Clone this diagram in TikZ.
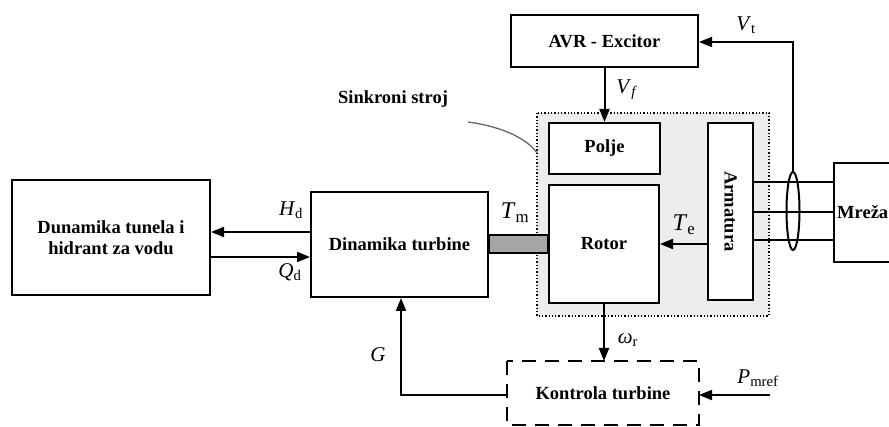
\documentclass[tikz,border=0pt]{standalone}
\usepackage{fontspec}
\setmainfont{Liberation Serif}
\usetikzlibrary{arrows.meta,shapes.geometric}
\newcommand\lab[2]{\textit{#1}\textsubscript{\normalfont #2}}
\tikzset{
  bfnt/.style={font=\bfseries\fontsize{18.5}{21}\selectfont},
  blk/.style={draw,line width=2pt,fill=white,bfnt,align=center,inner sep=0pt},
  lbl/.style={font=\fontsize{21}{23}\selectfont,inner sep=0pt},
  arr/.style={line width=2pt,-{Triangle[length=13pt,width=10pt]}},
  ln/.style={line width=2pt},
}
\begin{document}
\begin{tikzpicture}[x=1pt,y=-1pt]
\clip (0,0) rectangle (889,427);
\fill[white] (0,0) rectangle (889,427);
% synchronous machine region
\draw[fill=black!7,dotted,line width=1.3pt] (537,113) rectangle (769,316);
% boxes
\node[blk,minimum width=198pt,minimum height=115pt] (tun) at (111,237.5) {Dunamika tunela i\\hidrant za vodu};
\node[blk,minimum width=177pt,minimum height=105pt] (tur) at (399.5,244.5) {Dinamika turbine};
\node[blk,minimum width=187pt,minimum height=52pt] (avr) at (604.5,41) {AVR - Excitor};
\node[blk,minimum width=111pt,minimum height=51pt] (pol) at (604.5,148.5) {Polje};
\node[blk,minimum width=110pt,minimum height=118pt] (rot) at (604,244) {Rotor};
\node[blk,minimum width=45pt,minimum height=177pt] (arm) at (730.5,211.5) {};
\node[bfnt,rotate=-90] at (arm.center) {Armatura};
\node[blk,minimum width=120pt,minimum height=99pt,anchor=north west] (mre) at (833,162) {};
\node[bfnt,anchor=west,inner sep=0pt] at (837,212) {Mreža};
\node[blk,draw=none,minimum width=190pt,minimum height=62pt] (kon) at (603,393) {Kontrola turbine};
\draw[ln,dash pattern=on 14pt off 9pt] (kon.north west) rectangle (kon.south east);
% shaft
\draw[ln,fill=black!35] (tur.east|-0,235) rectangle (rot.west|-0,253);
\node[lbl,font=\fontsize{24}{26}\selectfont] at (515,213) {\lab{T}{m}};
% H_d and Q_d
\draw[arr] (tur.west|-0,232) -- (tun.east|-0,232);
\draw[arr] (tun.east|-0,257) -- (tur.west|-0,257);
\node[lbl] at (291,210) {\lab{H}{d}};
\node[lbl] at (290,272) {\lab{Q}{d}};
% Vf
\draw[arr] (avr.south) -- (pol.north);
\node[lbl] at (627,90) {\lab{V}{\textit{f}}};
% Te
\draw[arr] (arm.west|-0,244) -- (rot.east|-0,244);
\node[lbl,font=\fontsize{24}{26}\selectfont] at (684,225) {\lab{T}{e}};
% lines to grid
\draw[ln] (arm.east|-0,182) -- (mre.west|-0,182);
\draw[ln] (arm.east|-0,212) -- (mre.west|-0,212);
\draw[ln] (arm.east|-0,240) -- (mre.west|-0,240);
\node[ellipse,draw,line width=2pt,minimum width=13pt,minimum height=78pt,inner sep=0pt] (ell) at (793,211) {};
% Vt
\coordinate (vtc) at (793,42);
\draw[arr] (ell.north) -- (vtc) -- (avr.east|-vtc);
\node[lbl] at (746,25) {\lab{V}{t}};
% omega
\draw[arr] (rot.south) -- (rot.south|-kon.north);
\node[lbl] at (628,340) {\lab{ω}{r}};
% G
\coordinate (gc) at (401,395);
\draw[arr] (kon.west|-gc) -- (gc) -- (gc|-tur.south);
\node[lbl] at (378,355) {\textit{G}};
% P_mref
\coordinate (pc) at (770,395);
\draw[arr] (pc) -- (kon.east|-pc);
\node[lbl] at (758,378) {\lab{P}{mref}};
% Sinkroni stroj
\node[bfnt,inner sep=0pt] (sin) at (393,99) {Sinkroni stroj};
\draw[black!60,line width=1.3pt] (468,122) .. controls (505,127) and (528,140) .. (537,153);
\end{tikzpicture}
\end{document}
